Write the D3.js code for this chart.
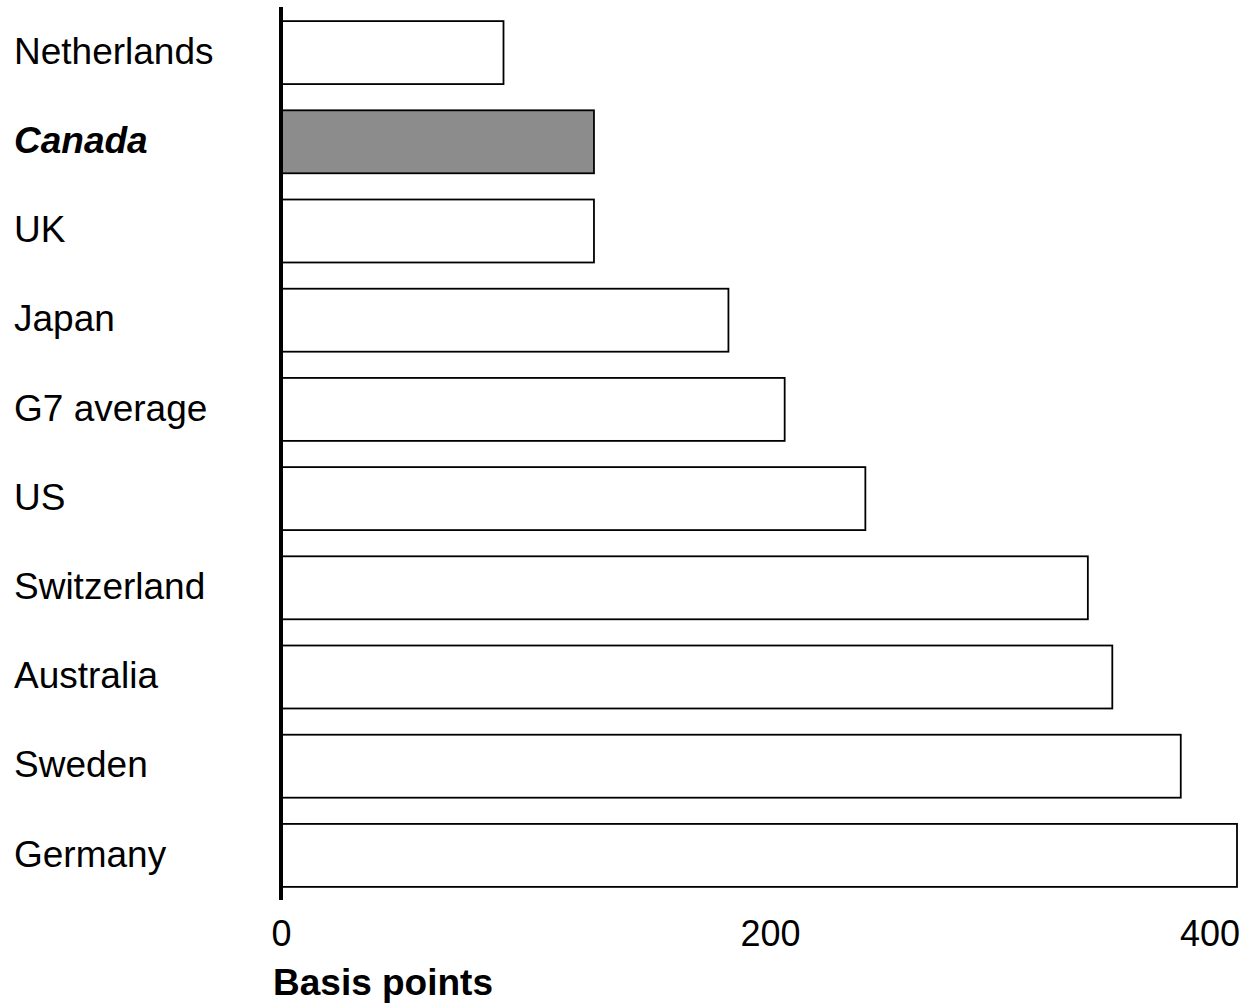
<!DOCTYPE html>
<html>
<head>
<meta charset="utf-8">
<script src="https://cdn.jsdelivr.net/npm/d3@7"></script>
<style>
  html, body { margin: 0; padding: 0; background: #fff; }
  text { font-family: Arial, "Liberation Sans", sans-serif; }
</style>
</head>
<body>
<svg id="chart" width="1249" height="1008"></svg>
<script>
const countries = ["Netherlands", "Canada", "UK", "Japan", "G7 average", "US", "Switzerland", "Australia", "Sweden", "Germany"];
const values = [91, 128, 128, 183, 206, 239, 330, 340, 368, 391];
const highlight = ["Canada"];
const xTicks = [0, 200, 400];
const xTitle = "Basis points";

const W = 1249, H = 1008;
const svg = d3.select("#chart");

const x = d3.scaleLinear().domain([0, 200]).range([281, 770]);
const y = d3.scaleBand().domain(countries).range([8, 900]).paddingInner(0.294).paddingOuter(0.147);

// bars
svg.append("g").selectAll("rect")
  .data(countries)
  .join("rect")
  .attr("x", x(0) + 1)
  .attr("y", d => y(d))
  .attr("width", (d, i) => x(values[i]) - x(0) - 1)
  .attr("height", y.bandwidth())
  .attr("fill", d => highlight.includes(d) ? "#8c8c8c" : "#ffffff")
  .attr("stroke", "#000")
  .attr("stroke-width", 1.8);

// category labels
svg.append("g").selectAll("text")
  .data(countries)
  .join("text")
  .attr("x", 14)
  .attr("y", d => y(d) + y.bandwidth() / 2)
  .attr("dy", "0.3em")
  .attr("font-size", 37)
  .attr("font-weight", d => highlight.includes(d) ? "bold" : "normal")
  .attr("font-style", d => highlight.includes(d) ? "italic" : "normal")
  .attr("fill", "#000")
  .text(d => d);

// vertical axis line
const yAxis = d3.axisLeft(y).tickSize(0).tickFormat("");
const gy = svg.append("g").attr("transform", `translate(${x(0)},0)`).call(yAxis);
gy.select(".domain").attr("stroke", "#000").attr("stroke-width", 4).attr("d", `M0,7V900`);

// x axis labels
const xAxis = d3.axisBottom(x).tickValues(xTicks).tickSize(0).tickPadding(0).tickFormat(d3.format("d"));
const gx = svg.append("g").attr("transform", "translate(0,920)").call(xAxis);
gx.select(".domain").remove();
gx.selectAll(".tick text")
  .attr("font-size", 36)
  .attr("font-family", "Arial, 'Liberation Sans', sans-serif")
  .attr("fill", "#000")
  .attr("dy", "0.71em");
// keep tick labels inside the page
gx.selectAll(".tick").each(function() {
  const t = d3.select(this).select("text");
  const bb = this.getBBox();
  const tr = this.transform.baseVal.consolidate().matrix.e;
  const right = tr + bb.x + bb.width;
  if (right > W - 9) t.attr("x", (W - 9) - right);
});

svg.append("text")
  .attr("x", 273)
  .attr("y", 995)
  .attr("font-size", 37)
  .attr("font-weight", "bold")
  .attr("fill", "#000")
  .text(xTitle);
</script>
</body>
</html>
